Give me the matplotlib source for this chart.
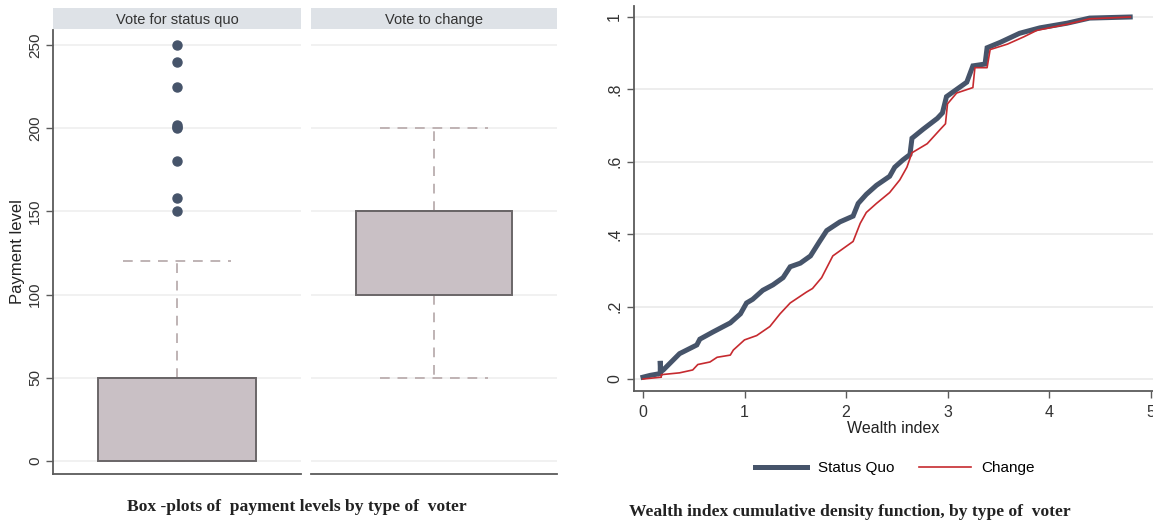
import matplotlib
matplotlib.use("Agg")
import matplotlib.pyplot as plt
import numpy as np

# ---------------- data ----------------
panel_titles = ["Vote for status quo", "Vote to change"]
# box-plot summaries (payment level)
box_q1 = [0, 100]
box_med = [50, 150]
box_q3 = [50, 150]
whisker_low = [0, 50]
whisker_high = [120, 200]
outliers_status_quo = [250, 240, 225, 202, 201, 200, 180, 158, 150]
outliers_change = []
pay_ticks = [0, 50, 100, 150, 200, 250]

# wealth index CDF
sq_x = [0.0, 0.07, 0.17, 0.17, 0.175, 0.2, 0.36, 0.53, 0.56, 0.69, 0.86, 0.96, 1.02,
        1.08, 1.18, 1.28, 1.38, 1.45, 1.55, 1.65, 1.74, 1.81, 1.94, 2.07, 2.12,
        2.2, 2.3, 2.43, 2.48, 2.56, 2.63, 2.65, 2.76, 2.9, 2.95, 2.99, 3.09,
        3.19, 3.25, 3.37, 3.39, 3.52, 3.71, 3.91, 4.18, 4.4, 4.8]
sq_y = [0.005, 0.01, 0.015, 0.05, 0.02, 0.025, 0.07, 0.094, 0.11, 0.13, 0.155, 0.18, 0.21,
        0.22, 0.245, 0.26, 0.28, 0.31, 0.32, 0.34, 0.38, 0.41, 0.434, 0.45, 0.485,
        0.51, 0.535, 0.56, 0.585, 0.605, 0.62, 0.665, 0.69, 0.72, 0.735, 0.78, 0.80,
        0.82, 0.865, 0.87, 0.915, 0.93, 0.955, 0.97, 0.983, 0.997, 1.0]
ch_x = [0.0, 0.18, 0.18, 0.36, 0.49, 0.54, 0.66, 0.73, 0.86, 0.89, 1.0, 1.12, 1.25,
        1.35, 1.45, 1.61, 1.67, 1.76, 1.87, 1.97, 2.07, 2.14, 2.2, 2.3, 2.43,
        2.53, 2.6, 2.65, 2.8, 2.93, 2.98, 3.0, 3.09, 3.25, 3.27, 3.39, 3.42,
        3.59, 3.75, 3.88, 4.18, 4.4, 4.8]
ch_y = [0.0, 0.005, 0.012, 0.017, 0.025, 0.04, 0.047, 0.06, 0.066, 0.08, 0.108, 0.12, 0.145,
        0.18, 0.21, 0.24, 0.25, 0.28, 0.34, 0.36, 0.38, 0.43, 0.46, 0.485, 0.515,
        0.55, 0.585, 0.625, 0.65, 0.69, 0.705, 0.76, 0.79, 0.805, 0.86, 0.86, 0.91,
        0.925, 0.945, 0.963, 0.98, 0.995, 1.0]
series_names = ["Status Quo", "Change"]
cdf_yticks = [0, 0.2, 0.4, 0.6, 0.8, 1.0]
cdf_yticklabels = ["0", ".2", ".4", ".6", ".8", "1"]
cdf_xticks = [0, 1, 2, 3, 4, 5]

# ---------------- style ----------------
W, H = 1153, 521
plt.rcParams['font.family'] = ['Liberation Sans', 'DejaVu Sans']
fig = plt.figure(figsize=(W / 100, H / 100), dpi=100)

def rect(x0, y0, x1, y1):
    return [x0 / W, 1 - y1 / H, (x1 - x0) / W, (y1 - y0) / H]

spine_col = "#5b5b5b"
grid_col = "#efefef"
box_fill = "#c9c0c5"
box_edge = "#6a6668"
whisk_col = "#bfb3b4"
sq_col = "#46546a"
ch_col = "#c62a2f"
strip_col = "#dee2e7"

panel_x = [(53, 301), (311, 557)]
y_top, y_bot = 30, 474
# value mapping: 0 -> 461 px, 250 -> 45 px
ppu = (461 - 45) / 250.0
ylo = -(y_bot - 461) / ppu
yhi = 250 + (45 - y_top) / ppu

outs = [outliers_status_quo, outliers_change]
for i, (x0, x1) in enumerate(panel_x):
    ax = fig.add_axes(rect(x0, y_top, x1, y_bot))
    st = dict(med=box_med[i], q1=box_q1[i], q3=box_q3[i],
              whislo=whisker_low[i], whishi=whisker_high[i], fliers=outs[i])
    ax.bxp([st], positions=[0.5], widths=[0.637], capwidths=[0.435],
           patch_artist=True, showfliers=True,
           boxprops=dict(facecolor=box_fill, edgecolor=box_edge, linewidth=1.4, zorder=3),
           medianprops=dict(color=box_edge, linewidth=1.4, zorder=4),
           whiskerprops=dict(color=whisk_col, linewidth=1.4, linestyle=(0, (5, 4)), zorder=2),
           capprops=dict(color=whisk_col, linewidth=1.4, linestyle=(0, (5, 4)), zorder=2),
           flierprops=dict(marker='o', markerfacecolor=sq_col, markeredgecolor=sq_col,
                           markersize=6.5))
    ax.set_xlim(0, 1)
    ax.set_ylim(ylo, yhi)
    ax.set_yticks(pay_ticks)
    ax.yaxis.grid(True, color=grid_col, linewidth=1.2)
    ax.set_axisbelow(True)
    ax.set_xticks([])
    for s in ['top', 'right']:
        ax.spines[s].set_visible(False)
    ax.spines['bottom'].set_color(spine_col)
    ax.spines['bottom'].set_linewidth(1.3)
    if i == 0:
        ax.spines['left'].set_color(spine_col)
        ax.spines['left'].set_linewidth(1.3)
        ax.tick_params(axis='y', length=5, width=1, color=spine_col, labelsize=11,
                       labelcolor="#333333", pad=3)
        for lab in ax.get_yticklabels():
            lab.set_rotation(90)
            lab.set_va('center')
        ax.set_ylabel("Payment level", fontsize=12, labelpad=2, color="#222222")
    else:
        ax.spines['left'].set_visible(False)
        ax.tick_params(axis='y', length=0, labelleft=False)
    # strip
    sax = fig.add_axes(rect(x0, 8, x1, 29))
    sax.set_facecolor(strip_col)
    sax.set_xticks([]); sax.set_yticks([])
    for s in sax.spines.values():
        s.set_visible(False)
    sax.text(0.5, 0.45, panel_titles[i], ha='center', va='center', fontsize=10.5,
             color="#333333", transform=sax.transAxes)

fig.text(297 / W, 1 - 507 / H, "Box -plots of  payment levels by type of  voter",
         ha='center', va='center', fontsize=12.6, fontweight='bold',
         family=['Liberation Serif', 'DejaVu Serif'], color="#222222")

# ---------------- CDF panel ----------------
axr = fig.add_axes(rect(634, 6, 1153, 391))
xppu = 101.5
yppu = 362.0
axr.set_xlim(-(643 - 634) / xppu, (1153 - 643) / xppu)
axr.set_ylim(-(391 - 379) / yppu, 1 + (379 - 6 - yppu) / yppu)
axr.plot(sq_x, sq_y, color=sq_col, linewidth=3.6, label=series_names[0],
         solid_joinstyle='miter')
axr.plot(ch_x, ch_y, color=ch_col, linewidth=1.2, label=series_names[1])
axr.set_yticks(cdf_yticks)
axr.set_yticklabels(cdf_yticklabels)
axr.set_xticks(cdf_xticks)
axr.yaxis.grid(True, color="#ececec", linewidth=1.3)
axr.set_axisbelow(True)
for s in ['top', 'right']:
    axr.spines[s].set_visible(False)
for s in ['left', 'bottom']:
    axr.spines[s].set_color(spine_col)
    axr.spines[s].set_linewidth(1.3)
axr.tick_params(axis='both', length=5, width=1, color=spine_col, labelsize=11.5,
                labelcolor="#333333")
axr.tick_params(axis='x', pad=5)
for lab in axr.get_yticklabels():
    lab.set_rotation(90)
    lab.set_va('center')
axr.set_xlabel("Wealth index", fontsize=11.5, labelpad=1, color="#222222")

fig.legend(loc='center', bbox_to_anchor=(895 / W, 1 - 468 / H), ncol=2, frameon=False,
           fontsize=11, handlelength=3.4, columnspacing=1.6, handletextpad=0.7)

fig.text(850 / W, 1 - 512 / H,
         "Wealth index cumulative density function, by type of  voter",
         ha='center', va='center', fontsize=12.6, fontweight='bold',
         family=['Liberation Serif', 'DejaVu Serif'], color="#222222")

fig.savefig("out.png", dpi=100, facecolor="white")
